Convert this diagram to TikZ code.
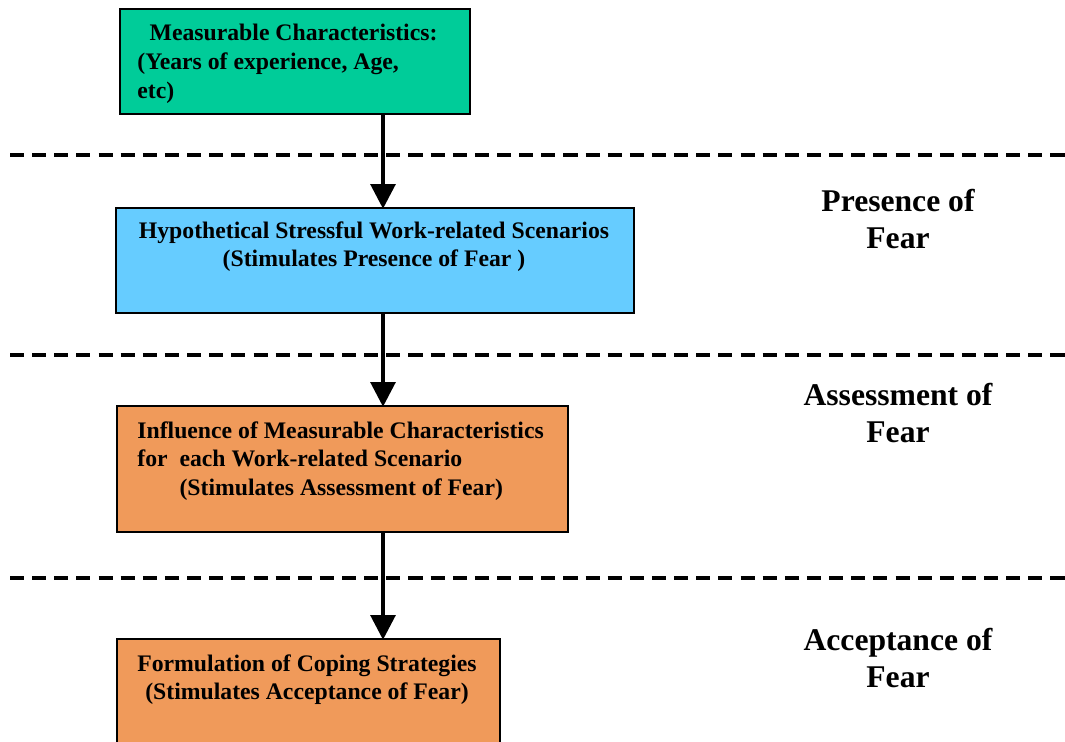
\documentclass[tikz,border=0pt]{standalone}
\usepackage{fontspec}
\setmainfont{Liberation Serif}
\usepackage{xcolor}
\usetikzlibrary{
  	positioning,
  	arrows.meta
  }
\definecolor{charsgreen}{HTML}{00CC99}
\definecolor{scenblue}{HTML}{66CCFF}
\definecolor{fearorange}{HTML}{F09A5A}
\newdimen\px
\px=0.02cm
\tikzset{
  box/.style={draw=black, line width=1.1pt, inner sep=0pt, anchor=north west},
  boxtext/.style={inner sep=0pt, font=\fontsize{13.5}{16.4}\selectfont\bfseries},
  stage/.style={inner sep=0pt, align=center, font=\fontsize{18}{21}\selectfont\bfseries},
  flow/.style={line width=2.2pt, -{Triangle[width=14pt,length=14pt]}, shorten >=-1pt},
  sep/.style={line width=2pt, dash pattern=on 8pt off 4.6pt}
}

\begin{document}
\begin{tikzpicture}[x=0.02cm, y=-0.02cm]
  	\useasboundingbox (0,0) rectangle (1065,742);
  	\clip (0,0) rectangle (1065,742);
  	\coordinate (axis) at (383,0);
	% boxes
	\node[box, fill=charsgreen, minimum width=350\px, minimum height=105\px] (chars) at (119,8) {};
	\node[box, fill=scenblue, minimum width=518\px, minimum height=105\px] (scen) at (115,207) {};
	\node[box, fill=fearorange, minimum width=451\px, minimum height=126\px] (infl) at (116,405) {};
	\node[box, fill=fearorange, minimum width=383\px, minimum height=140\px] (cope) at (116,638) {};
	% box texts
	\node[boxtext, align=left, anchor=north west] (charstxt) at (137,24)
	  {\hspace*{7pt}Measurable Characteristics:\\(Years of experience, Age,\\etc)};
	\node[boxtext, align=center, anchor=north] (scentxt) at (374,221)
	  {Hypothetical Stressful Work-related Scenarios\\(Stimulates Presence of Fear )};
	\node[boxtext, align=left, anchor=north west] (infltxt) at (137,421)
	  {Influence of Measurable Characteristics\\for\ \ each Work-related Scenario\\\hspace*{24pt}(Stimulates Assessment of Fear)};
	\node[boxtext, align=center, anchor=north] (copetxt) at (307,654)
	  {Formulation of Coping Strategies\\(Stimulates Acceptance of Fear)};
	% stage labels
	\node[stage] (presence) at (898,219) {Presence of\\Fear};
	\node[stage] (assess) at (898,413) {Assessment of\\Fear};
	\node[stage] (accept) at (898,658) {Acceptance of\\Fear};
	% separators
	\coordinate (s1l) at (10,155);
	\coordinate (s1r) at (1065,155);
	\coordinate (s2l) at (10,355);
	\coordinate (s2r) at (1065,355);
	\coordinate (s3l) at (10,578);
	\coordinate (s3r) at (1065,578);
	\draw[sep] (s1l) -- (s1r);
	\draw[sep] (s2l) -- (s2r);
	\draw[sep] (s3l) -- (s3r);
	% arrows
	\draw[flow] (chars.south -| axis) -- (scen.north -| axis);
	\draw[flow] (scen.south -| axis) -- (infl.north -| axis);
	\draw[flow] (infl.south -| axis) -- (cope.north -| axis);
\end{tikzpicture}
\end{document}
